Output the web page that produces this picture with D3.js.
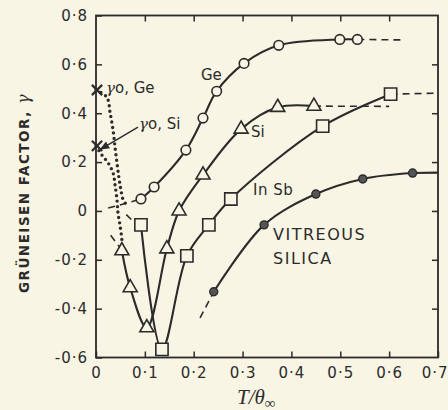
<!DOCTYPE html>
<html><head><meta charset="utf-8">
<script src="https://cdn.jsdelivr.net/npm/d3@7"></script>
<style>
html,body{margin:0;padding:0;background:#f8f5e4;}
svg{display:block;}
text{fill:#2b2b2b;}
</style></head>
<body>
<svg id="c" width="448" height="410"></svg>
<script>
// ---- data ----
const xTicks = [0, 0.1, 0.2, 0.3, 0.4, 0.5, 0.6, 0.7];
const yTicks = [-0.6, -0.4, -0.2, 0, 0.2, 0.4, 0.6, 0.8];

const gePoints = [[0.092,0.049],[0.119,0.098],[0.184,0.249],[0.219,0.38],[0.247,0.49],[0.303,0.604],[0.374,0.678],[0.499,0.702],[0.535,0.702]];
const geDashLow = [[0.025,0.012],[0.06,0.03],[0.092,0.049]];
const geDashHigh = [[0.535,0.702],[0.628,0.700]];

const siPoints = [[0.053,-0.163],[0.070,-0.314],[0.104,-0.478],[0.145,-0.155],[0.170,0.0],[0.219,0.147],[0.297,0.335],[0.372,0.424],[0.446,0.429]];
const siDashLow = [[0.030,-0.100],[0.050,-0.152]];
const siDashHigh = [[0.446,0.429],[0.600,0.428]];

const insbPoints = [[0.092,-0.057],[0.135,-0.567],[0.186,-0.184],[0.231,-0.057],[0.276,0.049],[0.464,0.347],[0.603,0.478]];
const insbDashLow = [[0.062,-0.015],[0.080,-0.050]];
const insbDashHigh = [[0.603,0.478],[0.700,0.482]];

const silicaPoints = [[0.241,-0.331],[0.344,-0.057],[0.450,0.069],[0.546,0.131],[0.648,0.155]];
const silicaDashLow = [[0.213,-0.438],[0.241,-0.331]];
const silicaTail = [[0.648,0.155],[0.700,0.157]];

const gamma0 = [[0,0.495],[0,0.266]]; // γ0,Ge and γ0,Si
const geDotted = [[0,0.495],[0.022,0.466],[0.029,0.40],[0.035,0.33],[0.039,0.26],[0.043,0.196],[0.047,0.135],[0.051,0.086],[0.055,0.049],[0.061,0.029]];
const siDotted = [[0,0.266],[0.012,0.229],[0.025,0.196],[0.035,0.155],[0.039,0.106],[0.043,0.045],[0.045,-0.008],[0.049,-0.057],[0.053,-0.12],[0.053,-0.150]];

// ---- drawing ----
const ink = "#2b2b2b", bg = "#f8f5e4";
const svg = d3.select("#c");
const x = d3.scaleLinear().domain([0,0.7]).range([96,438]);
const y = d3.scaleLinear().domain([-0.6,0.8]).range([357.5,15.5]);
const fmt = d => d === 0 ? "0" : d3.format(".1f")(d).replace(".", "·").replace("−","-");

// frame
svg.append("rect").attr("x",x(0)).attr("y",y(0.8)).attr("width",x(0.7)-x(0)).attr("height",y(-0.6)-y(0.8))
  .attr("fill","none").attr("stroke",ink).attr("stroke-width",1.8);

const tickFont = g => g.selectAll("text").attr("font-family","DejaVu Sans").attr("font-size",15)
  .attr("letter-spacing",1).attr("fill",ink);

const gx = svg.append("g").attr("transform",`translate(0,${y(-0.6)})`)
  .call(d3.axisBottom(x).tickValues(xTicks).tickSizeInner(-6).tickSizeOuter(0).tickPadding(10).tickFormat(fmt));
gx.call(tickFont); gx.select(".domain").remove(); gx.selectAll("line").attr("stroke",ink).attr("stroke-width",1.5);
gx.selectAll(".tick").filter(d=>d===0.7).select("text").attr("text-anchor","end").attr("x",10);

const gy = svg.append("g").attr("transform",`translate(${x(0)},0)`)
  .call(d3.axisLeft(y).tickValues(yTicks).tickSizeInner(-6).tickSizeOuter(0).tickPadding(8).tickFormat(fmt));
gy.call(tickFont); gy.select(".domain").remove(); gy.selectAll("line").attr("stroke",ink).attr("stroke-width",1.5);

const gt = svg.append("g").attr("transform",`translate(0,${y(0.8)})`)
  .call(d3.axisTop(x).tickValues(xTicks.slice(1,7)).tickSizeInner(-6).tickSizeOuter(0).tickFormat(""));
gt.select(".domain").remove(); gt.selectAll("line").attr("stroke",ink).attr("stroke-width",1.5);

const gr = svg.append("g").attr("transform",`translate(${x(0.7)},0)`)
  .call(d3.axisRight(y).tickValues(yTicks.slice(1,7)).tickSizeInner(-6).tickSizeOuter(0).tickFormat(""));
gr.select(".domain").remove(); gr.selectAll("line").attr("stroke",ink).attr("stroke-width",1.5);

// lines
const curve = d3.line().x(d=>x(d[0])).y(d=>y(d[1])).curve(d3.curveCatmullRom.alpha(0.5));
function path(data, opts={}) {
  svg.append("path").attr("d",curve(data)).attr("fill","none").attr("stroke",ink)
    .attr("stroke-width",opts.w||2.1).attr("stroke-dasharray",opts.dash||null)
    .attr("stroke-linecap",opts.cap||"butt");
}
[gePoints, siPoints, insbPoints, silicaPoints, silicaTail].forEach(d=>path(d));
[geDashLow, geDashHigh, siDashLow, siDashHigh, insbDashLow, insbDashHigh, silicaDashLow].forEach(d=>path(d,{dash:"7,5",w:1.6}));
[geDotted, siDotted].forEach(d=>path(d,{dash:"0,5.5",w:3.4,cap:"round"}));

// markers
svg.selectAll(".ge").data(gePoints).join("circle").attr("cx",d=>x(d[0])).attr("cy",d=>y(d[1])).attr("r",4.8)
  .attr("fill",bg).attr("stroke",ink).attr("stroke-width",1.6);
svg.selectAll(".si").data(siPoints).join("path").attr("d",d3.symbol(d3.symbolTriangle,85))
  .attr("transform",d=>`translate(${x(d[0])},${y(d[1])})`).attr("fill",bg).attr("stroke",ink).attr("stroke-width",1.6);
svg.selectAll(".insb").data(insbPoints).join("path").attr("d",d3.symbol(d3.symbolSquare,150))
  .attr("transform",d=>`translate(${x(d[0])},${y(d[1])})`).attr("fill",bg).attr("stroke",ink).attr("stroke-width",1.6);
svg.selectAll(".sil").data(silicaPoints).join("circle").attr("cx",d=>x(d[0])).attr("cy",d=>y(d[1])).attr("r",4)
  .attr("fill","#555").attr("stroke",ink).attr("stroke-width",1.4);
svg.selectAll(".g0").data(gamma0).join("path").attr("d",d3.symbol(d3.symbolTimes,70))
  .attr("transform",d=>`translate(${x(d[0])+1},${y(d[1])})`).attr("fill","none").attr("stroke",ink).attr("stroke-width",2.2);

// arrow to γ0,Si
svg.append("defs").append("marker").attr("id","ah").attr("viewBox","0 0 10 10").attr("refX",9).attr("refY",5)
  .attr("markerWidth",7).attr("markerHeight",7).attr("orient","auto")
  .append("path").attr("d","M0,1 L10,5 L0,9 z").attr("fill",ink);
svg.append("line").attr("x1",x(0.086)).attr("y1",y(0.343)).attr("x2",x(0.009)).attr("y2",y(0.252))
  .attr("stroke",ink).attr("stroke-width",1.4).attr("marker-end","url(#ah)");

// labels
function label(t, px, py, size, opts={}) {
  const el = svg.append("text").attr("x",px).attr("y",py).attr("font-family","DejaVu Sans")
    .attr("font-size",size).attr("letter-spacing",opts.ls||0).attr("fill",ink);
  el.html(t);
  return el;
}
label('<tspan font-style="italic" font-family="DejaVu Serif">γ</tspan>o, Ge', 106, 93, 15);
label('<tspan font-style="italic" font-family="DejaVu Serif">γ</tspan>o, Si', 139, 129, 15);
label("Ge", 201, 80, 15);
label("Si", 251, 137, 15);
label("In Sb", 253, 195, 15, {ls:0.5});
label("VITREOUS", 273, 240, 16, {ls:1.5});
label("SILICA", 273, 264, 16, {ls:1.5});

// axis titles
svg.append("text").attr("transform","translate(29,193) rotate(-90)").attr("text-anchor","middle")
  .attr("font-family","DejaVu Sans").attr("font-weight","bold").attr("font-size",13.5).attr("letter-spacing",1.5)
  .attr("fill",ink)
  .html('GRÜNEISEN FACTOR, <tspan font-style="italic" font-family="DejaVu Serif" font-weight="normal" font-size="16">γ</tspan>');
svg.append("text").attr("x",237).attr("y",404).attr("font-family","Liberation Serif").attr("font-style","italic")
  .attr("font-size",21).attr("fill",ink)
  .html('T/θ<tspan font-size="15" dy="4" font-style="normal" font-weight="bold">∞</tspan>');
</script>
</body></html>
